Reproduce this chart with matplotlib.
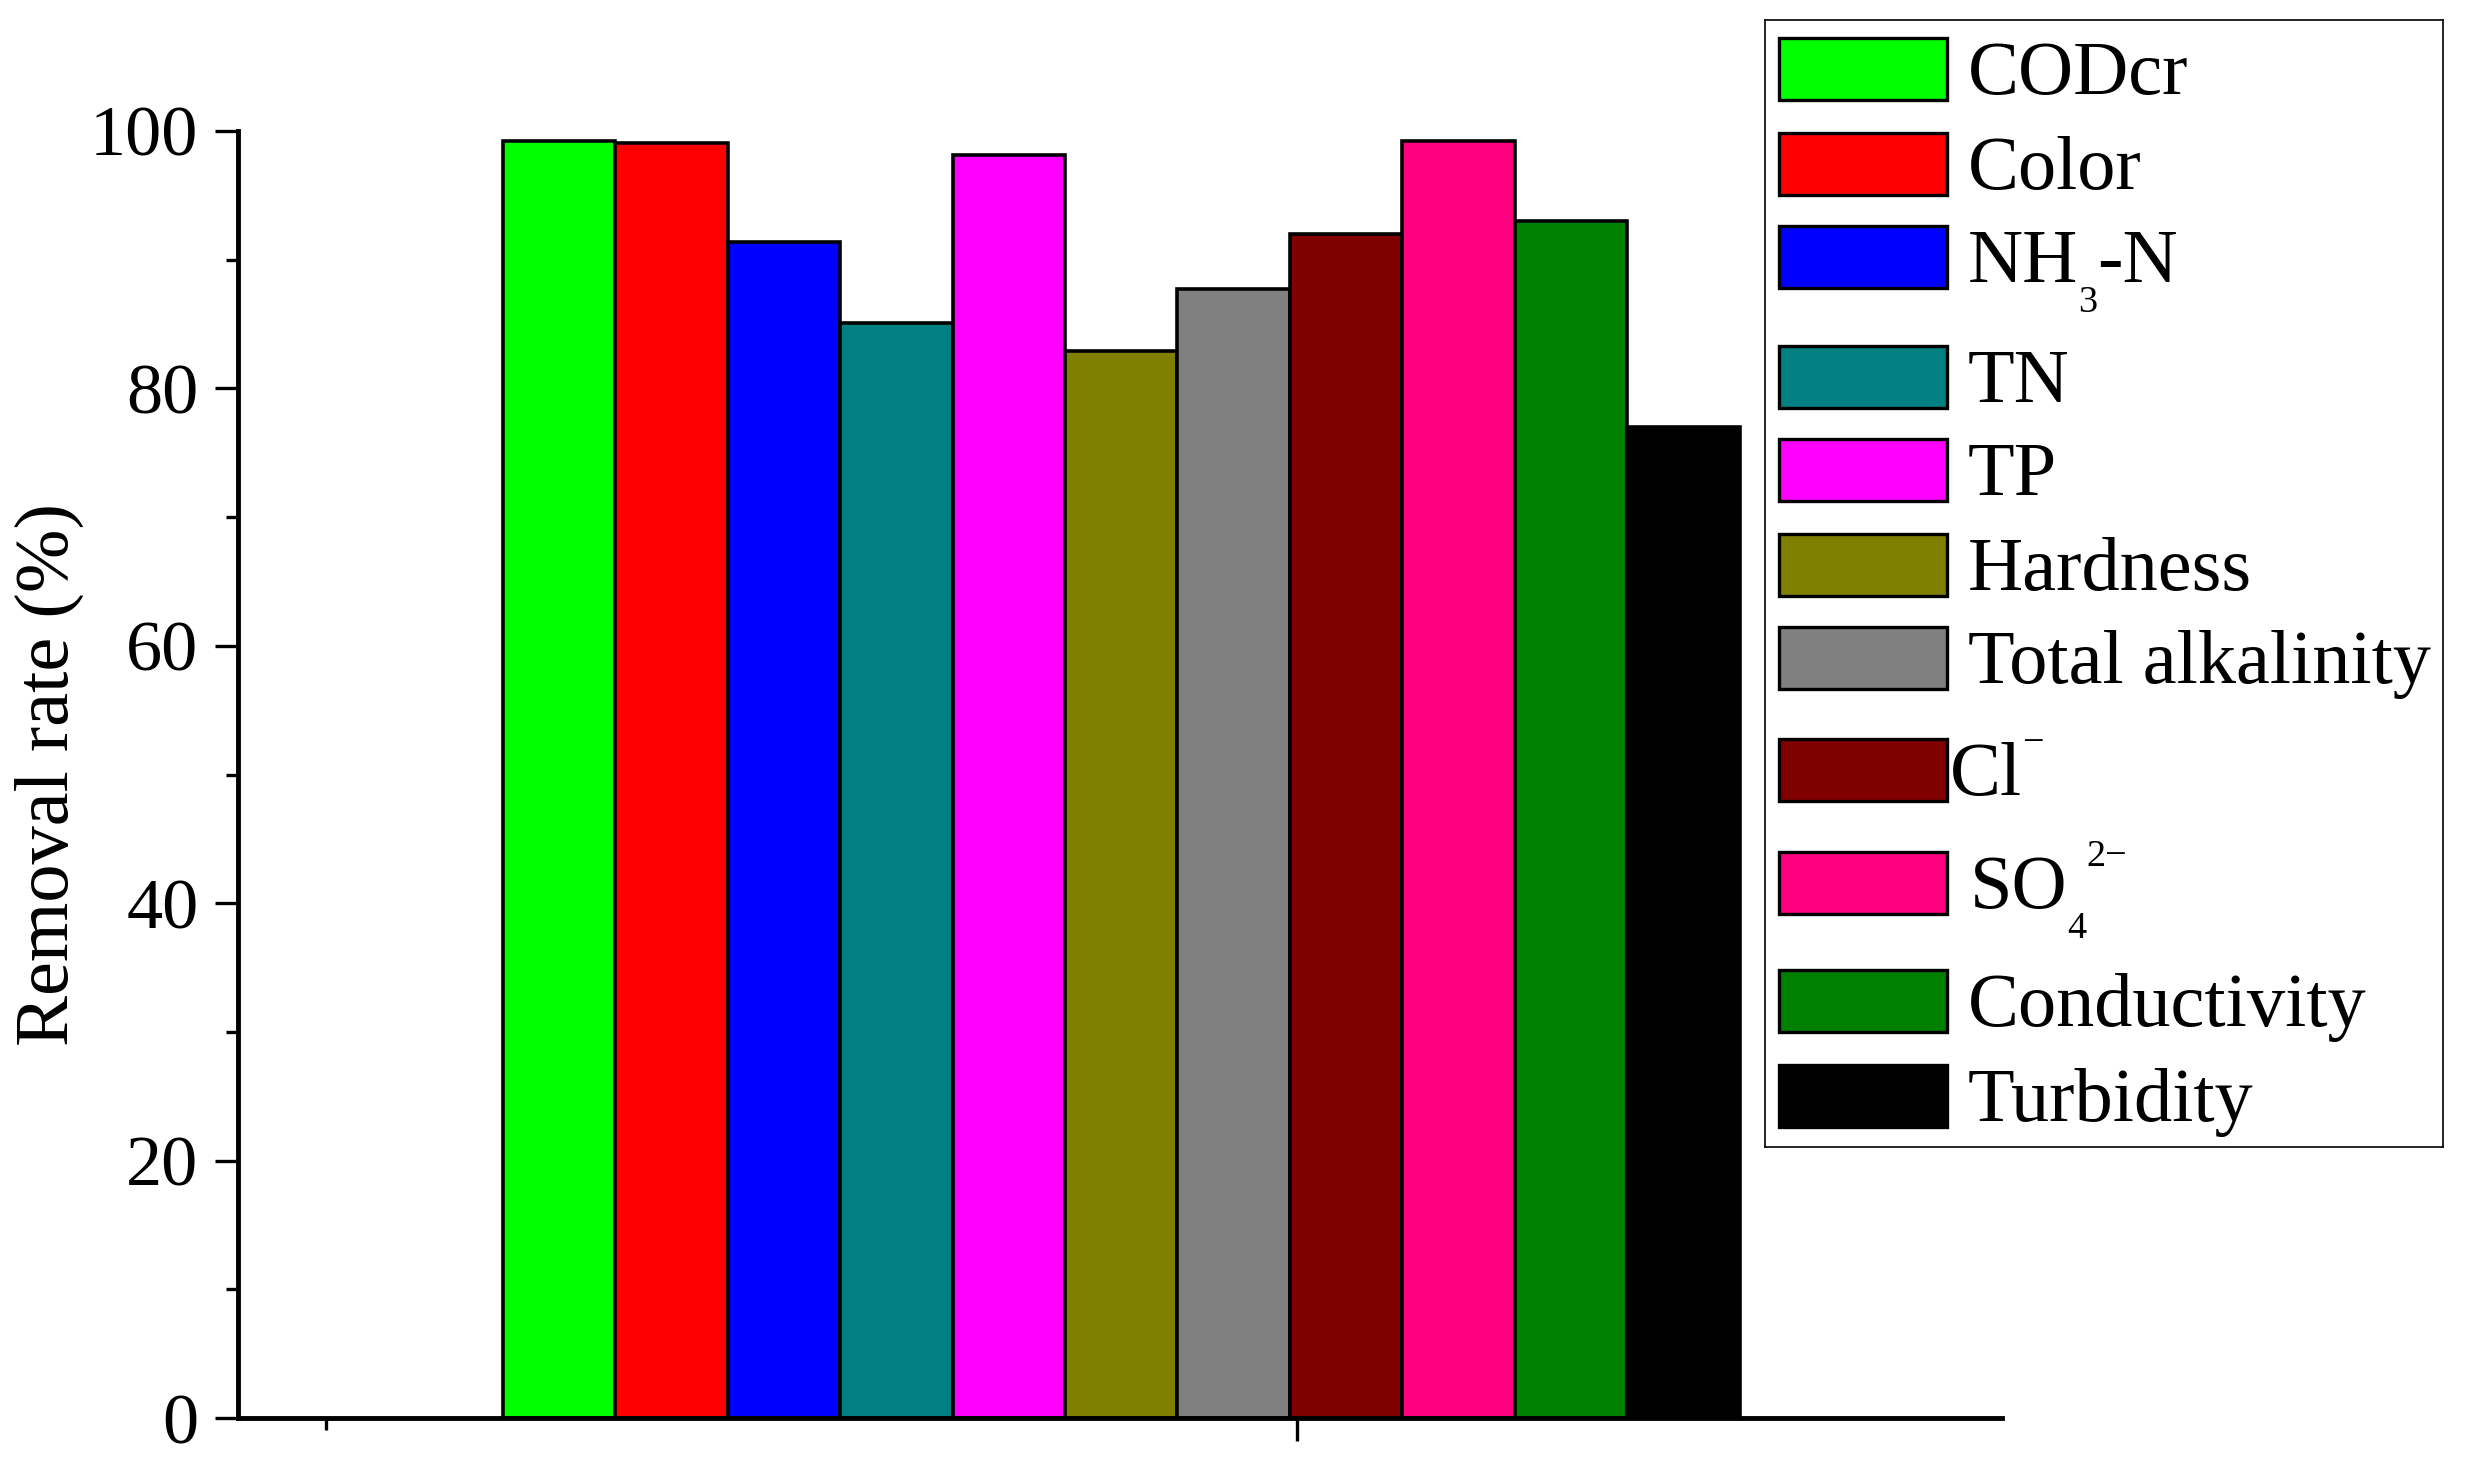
import matplotlib

matplotlib.use("Agg")
import matplotlib.pyplot as plt
from matplotlib.patches import Rectangle
from matplotlib.ticker import FixedLocator, NullFormatter

plt.rcParams["font.family"] = ["Liberation Serif", "DejaVu Serif"]

# removal rate per parameter (%)
names = ["CODcr", "Color", "NH3-N", "TN", "TP", "Hardness", "Total alkalinity",
         "Cl-", "SO42-", "Conductivity", "Turbidity"]
values = [99.2, 99.1, 91.4, 85.1, 98.1, 82.9, 87.7, 92.0, 99.2, 93.0, 77.0]
colors = ["#00ff00", "#ff0000", "#0000ff", "#008080", "#ff00ff", "#808000",
          "#808080", "#800000", "#ff0080", "#008000", "#000000"]
# legend text pieces: (text, 0 normal / -1 subscript / 1 superscript)
label_parts = [
    [("CODcr", 0)], [("Color", 0)], [("NH", 0), ("3", -1), ("-N", 0)],
    [("TN", 0)], [("TP", 0)], [("Hardness", 0)], [("Total alkalinity", 0)],
    [("Cl", 0), ("\u2212", 1)], [("SO", 0), ("4", -1), ("2\u2212", 1)],
    [("Conductivity", 0)], [("Turbidity", 0)],
]
yticks = [0, 20, 40, 60, 80, 100]

W, H = 2473, 1473
GROUP_X = 0.9095
BAR_W = 0.0579

fig = plt.figure(figsize=(W / 100, H / 100), dpi=100)
ax = fig.add_axes([238 / W, 55 / H, 1764 / W, 1287 / H])

n = len(values)
for i, (v, c) in enumerate(zip(values, colors)):
    x = GROUP_X + (i - (n - 1) / 2) * BAR_W
    ax.bar(x, v, BAR_W, color=c, edgecolor="black", linewidth=2.6)

ax.set_xlim(0.4547, 1.363)
ax.set_ylim(0, 100)
ax.set_yticks(yticks)
ax.yaxis.set_minor_locator(FixedLocator(range(10, 100, 20)))
ax.xaxis.set_major_locator(FixedLocator([1.0]))
ax.xaxis.set_minor_locator(FixedLocator([0.5]))
ax.xaxis.set_major_formatter(NullFormatter())

for side in ("top", "right"):
    ax.spines[side].set_visible(False)
for side in ("left", "bottom"):
    ax.spines[side].set_linewidth(3.5)

ax.tick_params(which="major", direction="out", length=16.5, width=2.4,
               labelsize=52, pad=12)
ax.tick_params(which="minor", direction="out", length=8.6, width=2.4)
ax.set_ylabel("Removal rate (%)", fontsize=55, labelpad=4)

# hand-built legend box (pixel units, origin top-left)
LX, LY, LW, LH = 1765, 20, 678, 1127
lax = fig.add_axes([LX / W, 1 - (LY + LH) / H, LW / W, LH / H])
lax.set_xlim(0, LW)
lax.set_ylim(LH, 0)
lax.set_xticks([])
lax.set_yticks([])
for s in lax.spines.values():
    s.set_linewidth(1.2)
    s.set_edgecolor("black")

row_y = [49, 144, 237, 357, 450, 545, 638, 750, 863, 981, 1076]
text_x = [203, 203, 203, 203, 203, 203, 203, 185, 205, 203, 203]
FS = 55
renderer = fig.canvas.get_renderer()
for parts, c, ry, tx in zip(label_parts, colors, row_y, text_x):
    lax.add_patch(Rectangle((14, ry - 31), 168, 62, facecolor=c,
                            edgecolor="black", linewidth=2.4))
    base = ry + 25
    x = tx
    for txt, kind in parts:
        fs = FS if kind == 0 else FS * 0.5
        dy = {0: 0, -1: 30, 1: -42}[kind]
        t = lax.text(x, base + dy, txt, fontsize=fs, va="baseline", ha="left")
        x += t.get_window_extent(renderer).width

fig.savefig("out.png", dpi=100)
